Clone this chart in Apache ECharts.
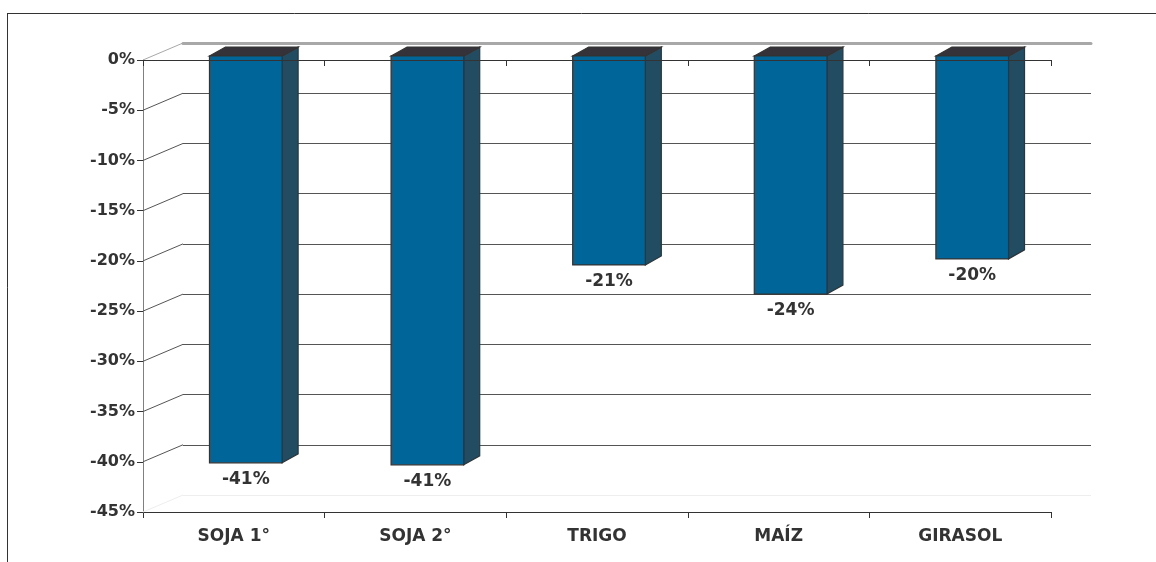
<!DOCTYPE html>
<html>
<head>
<meta charset="utf-8">
<script src="https://cdn.jsdelivr.net/npm/echarts@6/dist/echarts.min.js"></script>
<style>
  html, body { margin: 0; padding: 0; background: #fff; }
  #chart { width: 1156px; height: 562px; }
</style>
</head>
<body>
<div id="chart"></div>
<script>
// datos
const categorias = ['SOJA 1°', 'SOJA 2°', 'TRIGO', 'MAÍZ', 'GIRASOL'];
const valores = [-40.5, -40.7, -20.8, -23.7, -20.2];
const etiquetas = ['-41%', '-41%', '-21%', '-24%', '-20%'];
const marcasY = [0, -5, -10, -15, -20, -25, -30, -35, -40, -45];

const FONT = 'DejaVu Sans';
const TXT = '#333333';
// profundidad de la pared y de las barras
const paredDx = 40, paredDy = -17;
const barDx = 16, barDy = -9;

const chart = echarts.init(document.getElementById('chart'), null, { renderer: 'canvas' });

function renderDiagonal(params, api) {
  const v = api.value(0);
  const y = api.coord([0, v])[1];
  const x = params.coordSys.x;
  let color = '#555555';
  if (v === 0) color = '#a8a8a8';
  if (v === -45) color = '#eeeeee';
  return {
    type: 'line',
    shape: { x1: x, y1: y, x2: x + paredDx, y2: y + paredDy },
    style: { stroke: color, lineWidth: 1 }
  };
}

function renderBarra(params, api) {
  const i = api.value(0);
  const v = api.value(1);
  const base = api.coord([i, 0]);
  const fin = api.coord([i, v]);
  const w = api.size([1, 0])[0] * 0.4;
  const x0 = base[0] + 12 - w / 2;
  const x1 = x0 + w;
  const y0 = base[1] - 4;
  const y1 = fin[1] - 4;
  const borde = { stroke: '#333333', lineWidth: 1.2 };
  return {
    type: 'group',
    children: [
      {
        type: 'polygon',
        shape: { points: [[x1, y0], [x1 + barDx, y0 + barDy], [x1 + barDx, y1 + barDy], [x1, y1]] },
        style: Object.assign({ fill: '#214c62' }, borde)
      },
      {
        type: 'polygon',
        shape: { points: [[x0, y0], [x0 + barDx, y0 + barDy], [x1 + barDx, y0 + barDy], [x1, y0]] },
        style: Object.assign({ fill: '#353339' }, borde)
      },
      {
        type: 'rect',
        shape: { x: x0, y: y0, width: w, height: y1 - y0 },
        style: Object.assign({ fill: '#006699' }, borde)
      },
      {
        type: 'text',
        style: {
          text: etiquetas[i],
          x: (x0 + x1) / 2,
          y: y1 + 17,
          align: 'center',
          verticalAlign: 'middle',
          fill: TXT,
          font: 'bold 17px "' + FONT + '"'
        }
      }
    ]
  };
}

const option = {
  backgroundColor: '#ffffff',
  animation: false,
  graphic: [
    { type: 'line', shape: { x1: 7, y1: 13.5, x2: 1156, y2: 13.5 }, style: { stroke: '#333', lineWidth: 1 } },
    { type: 'line', shape: { x1: 7.5, y1: 13.5, x2: 7.5, y2: 562 }, style: { stroke: '#333', lineWidth: 1 } }
  ],
  grid: [
    { left: 143, top: 60, width: 908, height: 452 },
    { left: 183, top: 43, width: 908, height: 452 }
  ],
  xAxis: [
    {
      type: 'category', gridIndex: 0, data: categorias, position: 'bottom',
      axisLine: { onZero: false, lineStyle: { color: '#333', width: 1 } },
      axisTick: { show: true, length: 6, lineStyle: { color: '#333' } },
      axisLabel: { margin: 16, color: TXT, fontFamily: FONT, fontWeight: 'bold', fontSize: 17 }
    },
    {
      type: 'category', gridIndex: 0, data: categorias, position: 'top', z: 5,
      axisLine: { onZero: false, lineStyle: { color: '#333', width: 1 } },
      axisTick: { show: true, inside: true, length: 6, lineStyle: { color: '#333' } },
      axisLabel: { show: false }
    },
    {
      type: 'category', gridIndex: 1, data: categorias, position: 'top',
      axisLine: { onZero: false, lineStyle: { color: '#a8a8a8', width: 3 } },
      axisTick: { show: false },
      axisLabel: { show: false }
    }
  ],
  yAxis: [
    {
      type: 'value', gridIndex: 0, min: -45, max: 0, interval: 5,
      axisLine: { show: true, lineStyle: { color: '#808080', width: 1 } },
      axisTick: { show: true, length: 6, lineStyle: { color: '#333' } },
      axisLabel: { margin: 8, color: TXT, fontFamily: FONT, fontWeight: 'bold', fontSize: 16, formatter: '{value}%' },
      splitLine: { show: false }
    },
    {
      type: 'value', gridIndex: 1, min: -45, max: 0, interval: 5,
      axisLine: { show: false },
      axisTick: { show: false },
      axisLabel: { show: false },
      splitLine: {
        show: true,
        lineStyle: {
          color: ['#eeeeee', '#555555', '#555555', '#555555', '#555555', '#555555', '#555555', '#555555', '#555555', '#a8a8a8'],
          width: 1
        }
      }
    }
  ],
  series: [
    {
      type: 'custom', name: 'diagonales', xAxisIndex: 0, yAxisIndex: 0, z: 1,
      data: marcasY.map(v => [v]),
      renderItem: renderDiagonal,
      silent: true
    },
    {
      type: 'custom', name: 'variación', xAxisIndex: 0, yAxisIndex: 0, z: 3,
      data: valores.map((v, i) => [i, v]),
      renderItem: renderBarra
    }
  ]
};

chart.setOption(option);
</script>
</body>
</html>
